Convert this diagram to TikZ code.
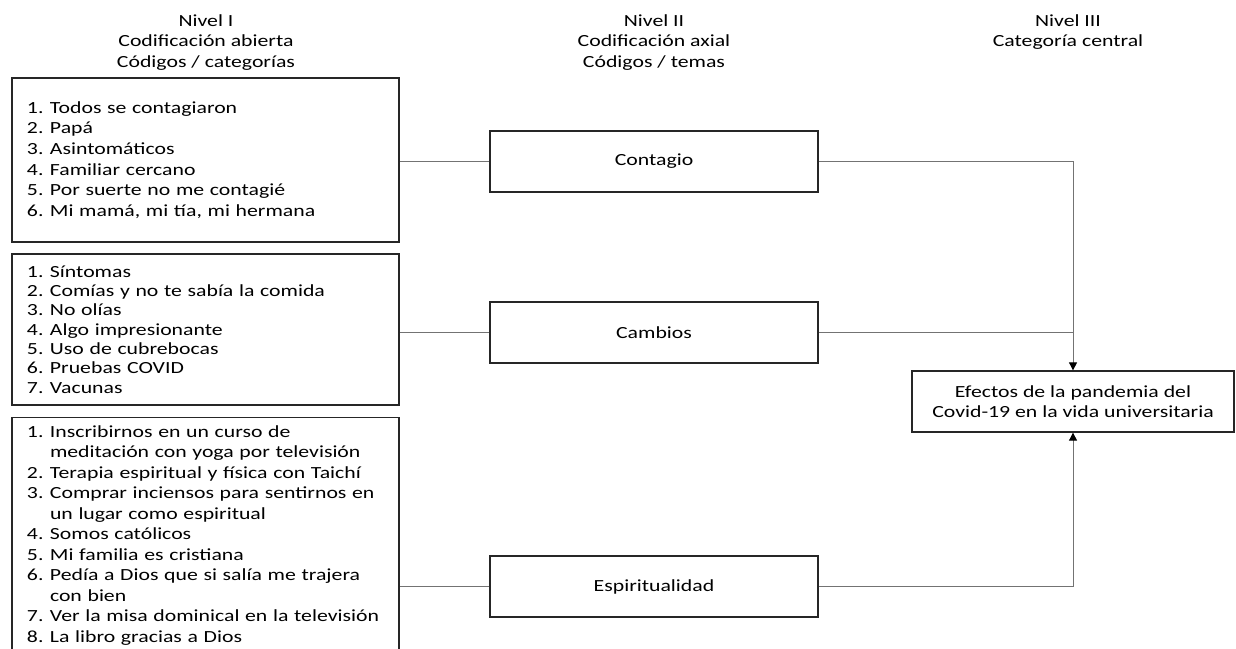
\documentclass[tikz,border=0pt]{standalone}
\usepackage{fontspec}
\setmainfont{Carlito}[FakeStretch=1.28]
\usetikzlibrary{positioning}
\usetikzlibrary{arrows.meta}

\newcommand{\itm}[2]{\makebox[23pt][l]{#1}#2}
\newcommand{\sig}[1]{\hspace*{23pt}#1}

\begin{document}
\begin{tikzpicture}[
    x=1pt, y=-1pt,
    nivel/.style={
        align=center,
        anchor=north,
        inner sep=0pt,
        font=\fontsize{17}{20.5}\selectfont,
    },
    lista/.style={
        draw=black!85,
        line width=1.3pt,
        align=left,
        text width=357pt,
        inner xsep=15pt,
        inner ysep=5pt,
        font=\fontsize{17}{19.3}\selectfont,
    },
    tema/.style={
        draw=black!85,
        line width=1.3pt,
        minimum width=328pt,
        minimum height=61pt,
        font=\fontsize{17}{20}\selectfont,
    },
    central/.style={tema, minimum width=322pt, align=center},
    liga/.style={draw=black!55, line width=0.9pt},
    flecha/.style={liga, -{Triangle[width=8pt,length=8pt,color=black]}},
]
    \clip (0,0) rectangle (1236,648);
    % ~~~ encabezados ~~~~~~~~~~~~
    \node[nivel] (n1) at (206,14) {Nivel I\\Codificación abierta\\Códigos / categorías};
    \node[nivel] (n2) at (654,14) {Nivel II\\Codificación axial\\Códigos / temas};
    \node[nivel] (n3) at (1068,14) {Nivel III\\Categoría central};
    % ~~~ nivel I: codigos ~~~~~~~~~~~~
    \node[lista, minimum height=164pt, font=\fontsize{17}{20.7}\selectfont] (l1) at (205.5,160) {
        \itm{1.}{Todos se contagiaron}\\
        \itm{2.}{Papá}\\
        \itm{3.}{Asintomáticos}\\
        \itm{4.}{Familiar cercano}\\
        \itm{5.}{Por suerte no me contagié}\\
        \itm{6.}{Mi mamá, mi tía, mi hermana}};
    \node[lista, minimum height=151pt] (l2) at (205.5,329.5) {
        \itm{1.}{Síntomas}\\
        \itm{2.}{Comías y no te sabía la comida}\\
        \itm{3.}{No olías}\\
        \itm{4.}{Algo impresionante}\\
        \itm{5.}{Uso de cubrebocas}\\
        \itm{6.}{Pruebas COVID}\\
        \itm{7.}{Vacunas}};
    \node[lista, anchor=north, inner ysep=8pt, font=\fontsize{17}{20.5}\selectfont] (l3) at (205.5,417) {\parbox[c][250pt][t]{357pt}{
        \itm{1.}{Inscribirnos en un curso de}\\
        \sig{meditación con yoga por televisión}\\
        \itm{2.}{Terapia espiritual y física con Taichí}\\
        \itm{3.}{Comprar inciensos para sentirnos en}\\
        \sig{un lugar como espiritual}\\
        \itm{4.}{Somos católicos}\\
        \itm{5.}{Mi familia es cristiana}\\
        \itm{6.}{Pedía a Dios que si salía me trajera}\\
        \sig{con bien}\\
        \itm{7.}{Ver la misa dominical en la televisión}\\
        \itm{8.}{La libro gracias a Dios}}};
    % ~~~ nivel II: temas ~~~~~~~~~~~~
    \node[tema] (t1) at (654,161.5) {Contagio};
    \node[tema] (t2) at (654,332.5) {Cambios};
    \node[tema] (t3) at (654,586.5) {Espiritualidad};
    % ~~~ nivel III ~~~~~~~~~~~~
    \node[central] (cc) at (1073,401.5) {Efectos de la pandemia del\\Covid-19 en la vida universitaria};
    % ~~~ conectores ~~~~~~~~~~~~
    \draw[liga] (t1.west) -- (t1.west -| l1.east);
    \draw[liga] (t2.west) -- (t2.west -| l2.east);
    \draw[liga] (t3.west) -- (t3.west -| l3.east);
    \draw[flecha] (t1.east) -| (cc.north);
    \draw[liga] (t2.east) -- (t2.east -| cc.north);
    \draw[flecha] (t3.east) -| (cc.south);
\end{tikzpicture}
\end{document}
